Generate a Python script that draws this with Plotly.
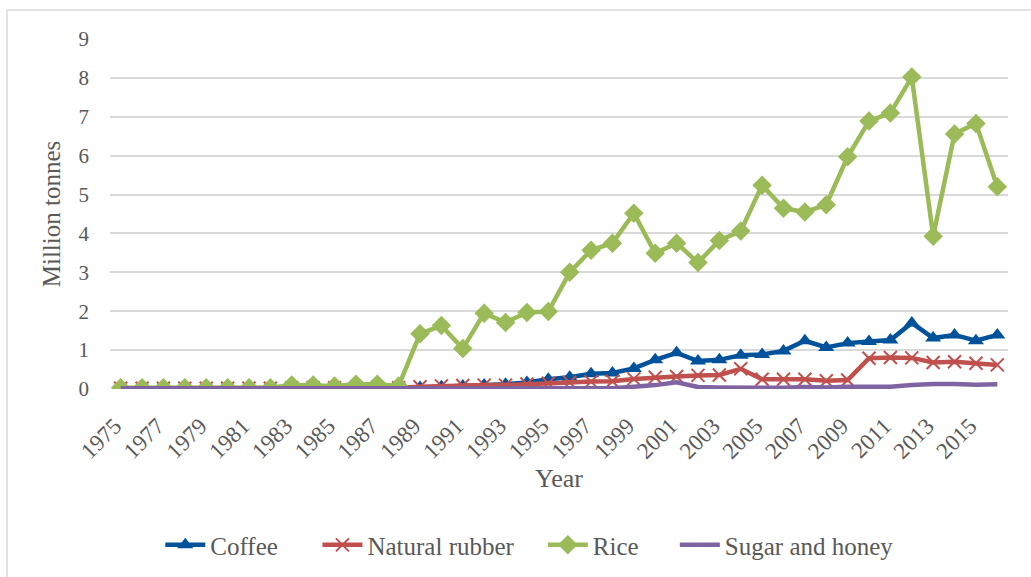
import plotly.graph_objects as go

# datos (millones de toneladas)

years = list(range(1975, 2017))

coffee = [0.0, 0.0, 0.0, 0.0, 0.0, 0.0, 0.0, 0.0, 0.0, 0.0,
          0.0, 0.0, 0.0, 0.01, 0.04, 0.06, 0.08, 0.1, 0.12, 0.17,
          0.25, 0.3, 0.39, 0.41, 0.53, 0.75, 0.93, 0.72, 0.75, 0.87,
          0.89, 0.98, 1.24, 1.07, 1.18, 1.22, 1.26, 1.7, 1.31, 1.39,
          1.24, 1.39]

rubber = [0.02, 0.02, 0.02, 0.02, 0.02, 0.02, 0.02, 0.02, 0.03, 0.03,
          0.03, 0.03, 0.03, 0.03, 0.06, 0.08, 0.09, 0.1, 0.1, 0.13,
          0.15, 0.17, 0.19, 0.2, 0.26, 0.3, 0.32, 0.35, 0.36, 0.52,
          0.25, 0.25, 0.25, 0.21, 0.23, 0.79, 0.81, 0.8, 0.68, 0.7,
          0.66, 0.62]

rice = [0.03, 0.03, 0.03, 0.03, 0.03, 0.03, 0.03, 0.03, 0.1, 0.1,
        0.08, 0.12, 0.12, 0.08, 1.42, 1.63, 1.04, 1.95, 1.71, 1.97,
        1.99, 3.0, 3.57, 3.75, 4.52, 3.49, 3.75, 3.25, 3.82, 4.06,
        5.24, 4.65, 4.55, 4.74, 5.97, 6.89, 7.1, 8.02, 3.93, 6.56,
        6.83, 5.2]

sugar = [0.02, 0.02, 0.02, 0.02, 0.02, 0.02, 0.02, 0.02, 0.02, 0.02,
         0.02, 0.02, 0.02, 0.02, 0.03, 0.03, 0.03, 0.03, 0.03, 0.02,
         0.02, 0.01, 0.03, 0.02, 0.06, 0.1, 0.17, 0.05, 0.04, 0.03,
         0.03, 0.03, 0.05, 0.04, 0.06, 0.07, 0.06, 0.1, 0.13, 0.13,
         0.11, 0.12]

year_ticks = list(range(1975, 2017, 2))

# series: nombre, valores, color, marcador, leyenda, posicion x de la leyenda

series = [
    ("Coffee", coffee, "#00529B", dict(symbol="triangle-up", size=14), "legend", 0.056),
    ("Natural rubber", rubber, "#C0504D", dict(symbol="x-thin", size=13, line=dict(width=2, color="#C0504D")), "legend2", 0.231),
    ("Rice", rice, "#9BBB59", dict(symbol="diamond", size=15), "legend3", 0.482),
    ("Sugar and honey", sugar, "#8064A2", None, "legend4", 0.629),
]

grey = "#595959"

fig = go.Figure()

legends = {}
for name, vals, color, marker, leg, lx in series:
    if marker is None:
        fig.add_trace(go.Scatter(
            x=years, y=vals, name=name, mode="lines",
            line=dict(color=color, width=4.5), legend=leg
        ))
    else:
        fig.add_trace(go.Scatter(
            x=years, y=vals, name=name, mode="lines+markers",
            line=dict(color=color, width=4.5),
            marker=dict(color=color, **marker), legend=leg
        ))
    legends[leg] = dict(
        orientation="h",
        x=lx, xanchor="left",
        y=-0.446, yanchor="middle",
        font=dict(size=25, color=grey),
        itemwidth=40,
        bgcolor="rgba(0,0,0,0)"
    )

fig.update_layout(
    width=1031,
    height=577,
    plot_bgcolor="white",
    paper_bgcolor="white",
    font=dict(family="Liberation Serif", color=grey, size=18),
    margin=dict(l=110, r=23, t=39, b=188, autoexpand=False),
    showlegend=True,
    **legends,
    xaxis=dict(
        range=[1974.5, 2016.5],
        tickmode="array",
        tickvals=year_ticks,
        ticktext=[str(y) for y in year_ticks],
        tickangle=-45,
        tickfont=dict(size=23, color=grey),
        ticklabelstandoff=18,
        ticklabelshift=-6,
        automargin=False,
        showgrid=False,
        zeroline=False,
        showline=False,
        title=dict(text="Year", font=dict(size=26, color=grey), standoff=3)
    ),
    yaxis=dict(
        range=[0, 9],
        dtick=1,
        tickfont=dict(size=21, color=grey),
        showgrid=True,
        gridcolor="#D9D9D9",
        gridwidth=1.5,
        zeroline=False,
        showline=False,
        automargin=False,
        ticklabelstandoff=20,
        title=dict(text="Million tonnes", font=dict(size=25, color=grey), standoff=10)
    ),
    shapes=[
        dict(type="line", xref="paper", yref="paper",
             x0=-0.1147, x1=1.2, y0=1.083, y1=1.083,
             line=dict(color="#D9D9D9", width=1.5)),
        dict(type="line", xref="paper", yref="paper",
             x0=-0.1147, x1=-0.1147, y0=1.083, y1=-0.7,
             line=dict(color="#D9D9D9", width=1.5)),
    ]
)

fig.write_html("out.html", config={"displayModeBar": False},
               post_script="document.body.style.margin='0px';")
